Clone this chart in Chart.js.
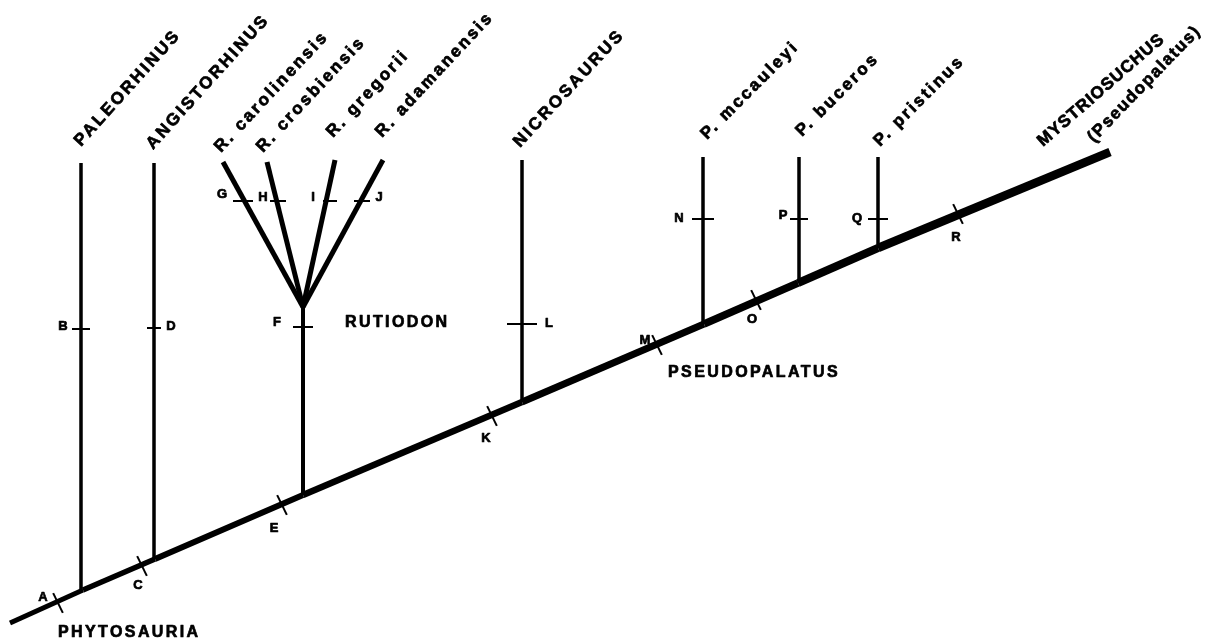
<!DOCTYPE html>
<html>
<head>
<meta charset="utf-8">
<script src="https://cdn.jsdelivr.net/npm/chart.js@4/dist/chart.umd.min.js"></script>
<style>
  html, body { margin: 0; padding: 0; background: #fff; }
  #tree { display: block; }
</style>
</head>
<body>
<canvas id="tree" width="1207" height="641"></canvas>
<script>
// --- DATA ---
// main stem (Phytosauria -> Mystriosuchus)
const trunkX = [10, 83, 155, 303, 522, 704, 798, 878, 1110];
const trunkY = [623, 590, 559, 495, 402, 324, 283, 248, 152];

// single terminal branches
const taxa      = ['PALEORHINUS', 'ANGISTORHINUS', 'NICROSAURUS', 'P. mccauleyi', 'P. buceros', 'P. pristinus'];
const taxonX    = [81, 154, 522, 703, 799, 878];
const taxonTop  = [163, 163, 160, 157, 157, 157];
const taxonBase = [590, 559, 402, 324, 283, 248];

// Rutiodon fan
const rutiodon   = ['R. carolinensis', 'R. crosbiensis', 'R. gregorii', 'R. adamanensis'];
const fanTopX    = [223, 267, 335, 383];
const fanTopY    = [162, 162, 160, 160];
const fanApex    = { x: 303, y: 307 };
const rutiodonBase = { x: 303, y: 495 };

// character marks on branches
const nodeMarks = ['B', 'D', 'F', 'G', 'H', 'I', 'J', 'L', 'N', 'P', 'Q'];
const nodeX     = [81, 154, 303, 243, 278, 330, 362, 522, 703, 799, 878];
const nodeY     = [329, 328, 327, 201, 201, 201, 201, 324, 219, 219, 219];

// character marks across the main stem
const stemMarks = ['A', 'C', 'E', 'K', 'M', 'O', 'R'];
const stemX     = [58, 142, 282, 492, 657, 756, 958];
const stemY     = [603, 566, 505, 416, 345, 300, 214];

// --- LAYOUT / STYLE ---
const nodeTickHalf = [9, 7, 10, 10, 8, 7, 8, 15, 11, 9, 10];
const nodeLetterPos = [[63,326],[171,326],[277,322],[222,194],[263,197],[313,197],[379,197],[549,323],[679,218],[783,215],[857,218]];
const stemLetterPos = [[43,597],[138,585],[274,528],[486,438],[645,340],[752,319],[956,237]];

// rotated names: [text, x, y, angle, letter spacing]
const rotatedNames = [
  [taxa[0], 81, 147, 48, 2.5],
  [taxa[1], 153, 150, 48, 2.5],
  [rutiodon[0], 221, 153, 47, 2.5],
  [rutiodon[1], 263, 153, 47, 2.5],
  [rutiodon[2], 333, 138, 47, 2.5],
  [rutiodon[3], 382, 138, 47, 2.5],
  [taxa[2], 520, 148, 47, 2.5],
  [taxa[3], 707, 140, 45, 2.5],
  [taxa[4], 802, 137, 45, 2.5],
  [taxa[5], 880, 147, 45, 2.5],
  ['MYSTRIOSUCHUS', 1043, 147, 41, 1],
  ['(Pseudopalatus)', 1094, 143, 46, 1.5]
];
const flatNames = [
  ['PHYTOSAURIA', 58, 637],
  ['RUTIODON', 345, 327],
  ['PSEUDOPALATUS', 668, 377]
];

const FONT = '"Liberation Sans", Arial, Helvetica, sans-serif';

// --- DATASETS ---
const datasets = [];

// main stem, thickening toward the right
datasets.push({
  type: 'line',
  data: trunkX.map((x, i) => ({ x: x, y: trunkY[i] })),
  borderColor: '#000',
  borderWidth: 5,
  borderCapStyle: 'butt',
  pointRadius: 0,
  segment: { borderWidth: ctx => 5 + ctx.p0DataIndex * 0.5 }
});

// vertical branches
taxa.forEach((t, i) => {
  datasets.push({
    type: 'line',
    data: [{ x: taxonX[i], y: taxonTop[i] }, { x: taxonX[i], y: taxonBase[i] }],
    borderColor: '#000', borderWidth: 3.5, pointRadius: 0, borderCapStyle: 'butt'
  });
});

// rutiodon stem + fan
datasets.push({
  type: 'line',
  data: [fanApex, rutiodonBase],
  borderColor: '#000', borderWidth: 4, pointRadius: 0
});
rutiodon.forEach((t, i) => {
  datasets.push({
    type: 'line',
    data: [{ x: fanTopX[i], y: fanTopY[i] }, fanApex],
    borderColor: '#000', borderWidth: 5, pointRadius: 0, borderCapStyle: 'butt'
  });
});

// tick marks on branches
datasets.push({
  type: 'scatter',
  data: nodeX.map((x, i) => ({ x: x, y: nodeY[i] })),
  pointStyle: 'line',
  pointRadius: ctx => nodeTickHalf[ctx.dataIndex],
  pointBorderColor: '#000',
  pointBorderWidth: 2,
  rotation: 0
});

// slashes across the stem
datasets.push({
  type: 'scatter',
  data: stemX.map((x, i) => ({ x: x, y: stemY[i] })),
  pointStyle: 'line',
  pointRadius: 11,
  pointBorderColor: '#000',
  pointBorderWidth: 2,
  rotation: 64
});

// --- TEXT PLUGIN ---
function heavyText(ctx, txt, x, y) {
  ctx.fillText(txt, x, y);
  ctx.strokeText(txt, x, y);
}

const labelPlugin = {
  id: 'treeLabels',
  afterDatasetsDraw(chart) {
    const ctx = chart.ctx;
    const xs = chart.scales.x, ys = chart.scales.y;
    ctx.save();
    ctx.fillStyle = '#000';
    ctx.strokeStyle = '#000';
    ctx.lineWidth = 0.7;
    ctx.lineJoin = 'round';

    // taxon names, slanted
    ctx.font = 'bold 17px ' + FONT;
    ctx.textAlign = 'left';
    ctx.textBaseline = 'alphabetic';
    rotatedNames.forEach(([txt, x, y, a, sp]) => {
      ctx.save();
      ctx.letterSpacing = sp + 'px';
      ctx.translate(xs.getPixelForValue(x), ys.getPixelForValue(y));
      ctx.rotate(-a * Math.PI / 180);
      heavyText(ctx, txt, 0, 0);
      ctx.restore();
    });

    // group names
    ctx.font = 'bold 16px ' + FONT;
    ctx.letterSpacing = '2.4px';
    flatNames.forEach(([txt, x, y]) => {
      heavyText(ctx, txt, xs.getPixelForValue(x), ys.getPixelForValue(y));
    });

    // character letters
    ctx.font = 'bold 13px ' + FONT;
    ctx.letterSpacing = '0px';
    ctx.textAlign = 'center';
    ctx.textBaseline = 'middle';
    nodeMarks.forEach((m, i) => {
      heavyText(ctx, m, xs.getPixelForValue(nodeLetterPos[i][0]), ys.getPixelForValue(nodeLetterPos[i][1]));
    });
    stemMarks.forEach((m, i) => {
      heavyText(ctx, m, xs.getPixelForValue(stemLetterPos[i][0]), ys.getPixelForValue(stemLetterPos[i][1]));
    });
    ctx.restore();
  }
};

new Chart(document.getElementById('tree'), {
  type: 'scatter',
  data: { datasets: datasets },
  options: {
    responsive: false,
    animation: false,
    layout: { padding: 0, autoPadding: false },
    scales: {
      x: { type: 'linear', min: 0, max: 1207, display: false },
      y: { type: 'linear', min: 0, max: 641, reverse: true, display: false }
    },
    plugins: { legend: { display: false }, tooltip: { enabled: false } }
  },
  plugins: [labelPlugin]
});
</script>
</body>
</html>
